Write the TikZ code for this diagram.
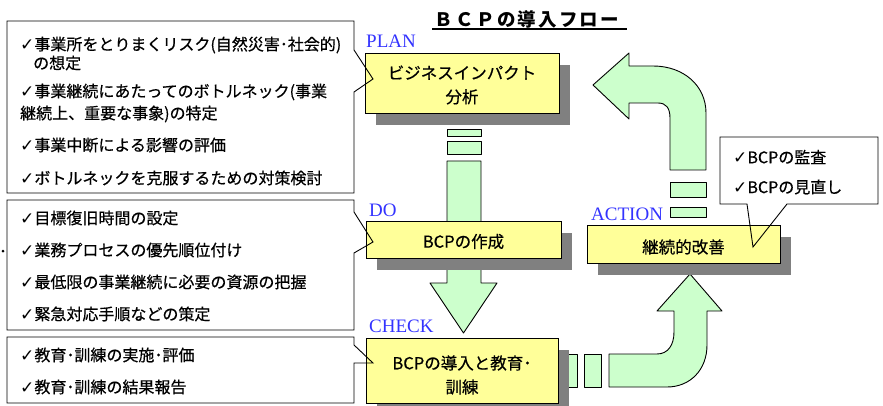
\documentclass[tikz,border=0pt]{standalone}
\usepackage{fontspec}
\newfontfamily\jp[FakeBold=0.5]{Noto Sans CJK JP}
\newfontfamily\jptitle[LetterSpace=12]{Noto Sans CJK JP}
\newfontfamily\symfont{DejaVu Sans}
\newfontfamily\lblfont{Liberation Serif}
\newcommand\chk{{\symfont\fontsize{17}{17}\selectfont ✓}}
\definecolor{boxyellow}{RGB}{255,255,153}
\definecolor{arrgreen}{RGB}{204,255,204}
\definecolor{shadowgray}{RGB}{128,128,128}
\definecolor{lblblue}{RGB}{51,51,255}
\usetikzlibrary{shadows}
\begin{document}
\begin{tikzpicture}[x=1pt,y=-1pt,
  ybox/.style={draw=black, fill=boxyellow, line width=0.9pt, inner sep=0pt,
    general shadow={fill=shadowgray, shadow xshift=11pt, shadow yshift=-12pt}},
  garrow/.style={draw=black, fill=arrgreen, line width=0.9pt, line join=round},
  callout/.style={draw=black, line width=0.9pt, line join=miter},
  phase/.style={font=\lblfont\fontsize{19}{19}\selectfont, text=lblblue, anchor=base west, inner sep=0pt},
  item/.style={font=\jp\fontsize{16}{16}\selectfont, anchor=west, inner sep=0pt},
  boxtext/.style={font=\jp\fontsize{16.5}{24}\selectfont, align=center, inner sep=0pt},
  titlestyle/.style={font=\jptitle\bfseries\fontsize{18.5}{18.5}\selectfont, inner sep=0pt}
]
\useasboundingbox (0,0) rectangle (883,406);

% title
\node[titlestyle] (title) at (527,19.5) {ＢＣＰの導入フロー};
\coordinate (ul1) at (432,29);
\coordinate (ul2) at (627,29);
\draw[line width=1.3pt] (ul1) -- (ul2);

% green arrows
\draw[garrow] (447,129) rectangle (481,136);
\draw[garrow] (447,141) rectangle (481,154);
\draw[garrow] (447,161) -- (481,161) -- (481,283) -- (497,283) -- (463.5,333)
  -- (430,283) -- (447,283) -- cycle;

\draw[garrow] (670,182) rectangle (706,197);
\draw[garrow] (670,207) rectangle (706,217);
\draw[garrow] (670,170) -- (670,118) .. controls (670,108) and (666,103) .. (658,103)
  -- (629,103) -- (629,119) -- (593,85) -- (629,53) -- (629,66) -- (653,66)
  .. controls (684,66) and (706,86) .. (706,113) -- (706,170) -- cycle;

\draw[garrow] (567,354) rectangle (577,387);
\draw[garrow] (584,354) rectangle (601,387);
\draw[garrow] (609,354) -- (657,354) .. controls (668,354) and (674,345) .. (674,332)
  -- (674,311) -- (657,311) -- (690,274) -- (722,311) -- (707,311) -- (707,345)
  .. controls (707,370) and (690,387) .. (667,387) -- (609,387) -- cycle;

% yellow boxes
\node[ybox, minimum width=194pt, minimum height=60pt] (plan) at (462,83) {};
\node[ybox, minimum width=195pt, minimum height=37pt] (do) at (463.5,239.5) {};
\node[ybox, minimum width=192pt, minimum height=65pt] (check) at (462,370.5) {};
\node[ybox, minimum width=193pt, minimum height=38pt] (act) at (683.5,244) {};

\node[boxtext] (plant) at ([yshift=-2pt]plan.center) {ビジネスインパクト\\分析};
\node[boxtext] (dot) at ([yshift=-2pt]do.center) {BCPの作成};
\node[boxtext] (checkt) at ([yshift=-4.5pt]check.center) {BCPの導入と教育･\\訓練};
\node[boxtext] (actt) at ([yshift=-3pt]act.center) {継続的改善};

% phase labels
\node[phase] (lplan) at (366,48) {PLAN};
\node[phase] (ldo) at (369,217) {DO};
\node[phase] (lcheck) at (369,332) {CHECK};
\node[phase] (lact) at (591,220) {ACTION};

% callouts
\draw[callout] (354,50) -- (354,21) -- (7,21) -- (7,193) -- (354,193) -- (354,92) -- (373,79) -- cycle;
\draw[callout] (354,212) -- (354,200) -- (7,200) -- (7,330) -- (354,330) -- (354,253) -- (373,242) -- cycle;
\draw[callout] (354,345) -- (354,337) -- (7,337) -- (7,403) -- (354,403) -- (354,363) -- (373,363) -- cycle;
\draw[callout] (747,204) -- (720,204) -- (720,137) -- (878,137) -- (878,204) -- (787,204) -- (753,247) -- cycle;

% bullet
\fill (3,251) circle (1.5);

% items
\node[item] (p1) at (20,45) {\chk 事業所をとりまくリスク(自然災害･社会的)};
\node[item] (p2) at (33,63) {の想定};
\node[item] (p3) at (20,92) {\chk 事業継続にあたってのボトルネック(事業};
\node[item] (p4) at (20,114) {継続上、重要な事象)の特定};
\node[item] (p5) at (20,145) {\chk 事業中断による影響の評価};
\node[item] (p6) at (20,178) {\chk ボトルネックを克服するための対策検討};

\node[item] (d1) at (20,218) {\chk 目標復旧時間の設定};
\node[item] (d2) at (20,250) {\chk 業務プロセスの優先順位付け};
\node[item] (d3) at (20,282) {\chk 最低限の事業継続に必要の資源の把握};
\node[item] (d4) at (20,314) {\chk 緊急対応手順などの策定};

\node[item] (c1) at (20,355) {\chk 教育･訓練の実施･評価};
\node[item] (c2) at (20,387) {\chk 教育･訓練の結果報告};

\node[item] (a1) at (733,157) {\chk BCPの監査};
\node[item] (a2) at (733,187) {\chk BCPの見直し};
\end{tikzpicture}
\end{document}
